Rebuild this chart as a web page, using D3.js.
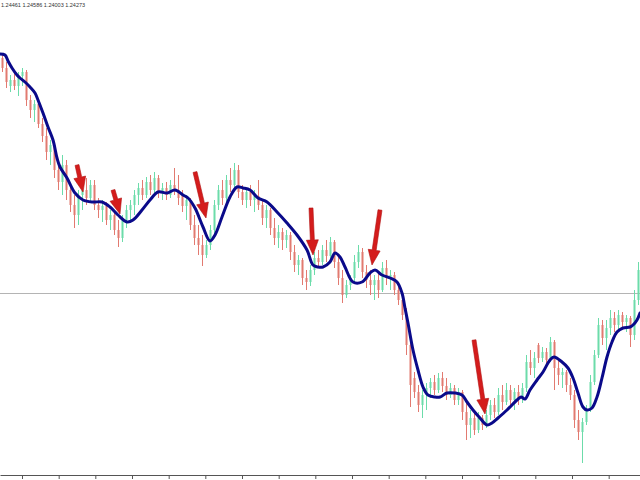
<!DOCTYPE html>
<html><head><meta charset="utf-8">
<script src="https://cdn.jsdelivr.net/npm/d3@7"></script>
<style>html,body{margin:0;padding:0;background:#fff;overflow:hidden}</style>
</head><body><svg id="c" width="640" height="480"></svg>
<script>
// OHLC candles [open, high, low, close]
const candles = [
[1.2662,1.2667,1.2648,1.2652],[1.2652,1.2658,1.2632,1.2638],[1.2634,1.2645,1.2628,1.2640],[1.2640,1.2650,1.2630,1.2634],
[1.2634,1.2648,1.2624,1.2644],[1.2644,1.2652,1.2634,1.2648],[1.2648,1.2650,1.2614,1.2620],[1.2620,1.2625,1.2602,1.2610],
[1.2610,1.2620,1.2598,1.2616],[1.2616,1.2620,1.2592,1.2596],[1.2596,1.2602,1.2578,1.2584],[1.2584,1.2592,1.2560,1.2568],
[1.2568,1.2580,1.2555,1.2575],[1.2575,1.2578,1.2542,1.2550],[1.2550,1.2560,1.2530,1.2538],[1.2538,1.2565,1.2525,1.2555],
[1.2555,1.2560,1.2520,1.2530],[1.2530,1.2537,1.2508,1.2515],[1.2515,1.2525,1.2492,1.2505],[1.2505,1.2530,1.2495,1.2525],
[1.2525,1.2537,1.2510,1.2530],[1.2530,1.2542,1.2515,1.2522],[1.2522,1.2540,1.2517,1.2535],[1.2535,1.2540,1.2510,1.2515],
[1.2515,1.2522,1.2502,1.2510],[1.2510,1.2520,1.2498,1.2514],[1.2514,1.2518,1.2495,1.2500],[1.2500,1.2510,1.2490,1.2505],
[1.2505,1.2508,1.2485,1.2490],[1.2490,1.2500,1.2473,1.2482],[1.2482,1.2505,1.2478,1.2500],[1.2500,1.2515,1.2492,1.2510],
[1.2510,1.2520,1.2500,1.2515],[1.2515,1.2530,1.2505,1.2525],[1.2525,1.2537,1.2515,1.2532],[1.2532,1.2540,1.2520,1.2525],
[1.2525,1.2543,1.2522,1.2538],[1.2538,1.2545,1.2525,1.2530],[1.2530,1.2548,1.2526,1.2542],[1.2542,1.2545,1.2522,1.2528],
[1.2528,1.2537,1.2520,1.2532],[1.2532,1.2538,1.2520,1.2525],[1.2525,1.2540,1.2522,1.2535],[1.2535,1.2552,1.2525,1.2530],
[1.2530,1.2545,1.2515,1.2522],[1.2525,1.2530,1.2508,1.2514],[1.2514,1.2525,1.2500,1.2520],[1.2520,1.2522,1.2490,1.2495],
[1.2495,1.2505,1.2475,1.2482],[1.2482,1.2495,1.2465,1.2475],[1.2475,1.2485,1.2454,1.2465],[1.2465,1.2480,1.2462,1.2475],
[1.2475,1.2495,1.2470,1.2490],[1.2490,1.2520,1.2485,1.2515],[1.2515,1.2535,1.2510,1.2530],[1.2530,1.2540,1.2515,1.2522],
[1.2522,1.2545,1.2518,1.2540],[1.2540,1.2552,1.2528,1.2535],[1.2535,1.2557,1.2530,1.2550],[1.2550,1.2555,1.2522,1.2528],
[1.2528,1.2535,1.2515,1.2520],[1.2520,1.2532,1.2512,1.2528],[1.2528,1.2535,1.2514,1.2520],[1.2520,1.2530,1.2508,1.2524],
[1.2524,1.2540,1.2510,1.2515],[1.2515,1.2520,1.2495,1.2502],[1.2502,1.2515,1.2492,1.2510],[1.2510,1.2512,1.2485,1.2492],
[1.2492,1.2502,1.2475,1.2482],[1.2482,1.2495,1.2472,1.2488],[1.2488,1.2492,1.2470,1.2480],[1.2480,1.2490,1.2472,1.2485],
[1.2485,1.2488,1.2460,1.2468],[1.2468,1.2475,1.2448,1.2455],[1.2455,1.2465,1.2445,1.2460],[1.2460,1.2462,1.2435,1.2442],
[1.2442,1.2450,1.2430,1.2438],[1.2438,1.2455,1.2434,1.2450],[1.2450,1.2468,1.2445,1.2462],[1.2462,1.2470,1.2452,1.2458],
[1.2458,1.2475,1.2455,1.2470],[1.2470,1.2480,1.2458,1.2464],[1.2464,1.2483,1.2460,1.2478],[1.2478,1.2480,1.2452,1.2458],
[1.2458,1.2465,1.2435,1.2442],[1.2442,1.2450,1.2417,1.2425],[1.2425,1.2440,1.2422,1.2435],[1.2435,1.2445,1.2430,1.2442],
[1.2442,1.2465,1.2438,1.2458],[1.2458,1.2475,1.2452,1.2468],[1.2468,1.2472,1.2442,1.2448],[1.2448,1.2455,1.2432,1.2440],
[1.2440,1.2450,1.2425,1.2435],[1.2435,1.2445,1.2420,1.2440],[1.2440,1.2448,1.2422,1.2430],[1.2430,1.2458,1.2428,1.2452],
[1.2452,1.2460,1.2435,1.2442],[1.2442,1.2450,1.2430,1.2445],[1.2445,1.2448,1.2425,1.2430],[1.2430,1.2438,1.2415,1.2420],
[1.2420,1.2425,1.2400,1.2405],[1.2405,1.2412,1.2365,1.2375],[1.2375,1.2385,1.2313,1.2335],[1.2342,1.2348,1.2322,1.2328],
[1.2328,1.2335,1.2308,1.2315],[1.2315,1.2330,1.2302,1.2325],[1.2325,1.2337,1.2310,1.2332],[1.2332,1.2342,1.2322,1.2338],
[1.2338,1.2345,1.2325,1.2330],[1.2330,1.2347,1.2327,1.2342],[1.2342,1.2348,1.2328,1.2334],[1.2334,1.2342,1.2320,1.2325],
[1.2325,1.2337,1.2322,1.2332],[1.2332,1.2335,1.2315,1.2320],[1.2320,1.2332,1.2315,1.2328],[1.2328,1.2330,1.2300,1.2308],
[1.2308,1.2320,1.2280,1.2295],[1.2295,1.2310,1.2282,1.2302],[1.2302,1.2308,1.2285,1.2290],[1.2290,1.2308,1.2287,1.2302],
[1.2302,1.2305,1.2290,1.2295],[1.2295,1.2310,1.2292,1.2305],[1.2305,1.2320,1.2300,1.2315],[1.2315,1.2322,1.2302,1.2308],
[1.2308,1.2332,1.2305,1.2325],[1.2325,1.2335,1.2310,1.2318],[1.2318,1.2337,1.2315,1.2330],[1.2330,1.2335,1.2312,1.2320],
[1.2320,1.2332,1.2310,1.2328],[1.2328,1.2335,1.2315,1.2322],[1.2322,1.2337,1.2317,1.2332],[1.2332,1.2365,1.2328,1.2358],
[1.2358,1.2370,1.2345,1.2352],[1.2352,1.2368,1.2342,1.2362],[1.2375,1.2377,1.2357,1.2362],[1.2362,1.2373,1.2358,1.2368],
[1.2368,1.2372,1.2355,1.2360],[1.2360,1.2383,1.2358,1.2378],[1.2378,1.2380,1.2330,1.2352],[1.2352,1.2360,1.2335,1.2345],
[1.2345,1.2352,1.2332,1.2348],[1.2348,1.2350,1.2328,1.2335],[1.2335,1.2342,1.2320,1.2325],[1.2325,1.2330,1.2292,1.2300],
[1.2300,1.2310,1.2280,1.2288],[1.2288,1.2302,1.2257,1.2298],[1.2298,1.2315,1.2295,1.2310],[1.2310,1.2345,1.2308,1.2338],
[1.2338,1.2370,1.2335,1.2365],[1.2365,1.2402,1.2362,1.2395],[1.2395,1.2400,1.2375,1.2382],[1.2382,1.2400,1.2370,1.2392],
[1.2392,1.2410,1.2385,1.2402],[1.2402,1.2408,1.2388,1.2395],[1.2395,1.2410,1.2390,1.2405],[1.2405,1.2408,1.2392,1.2398],
[1.2398,1.2405,1.2388,1.2402],[1.2402,1.2404,1.2373,1.2385],[1.2385,1.2430,1.2380,1.2420],[1.2420,1.2458,1.2415,1.2450]
];

// Smoothed moving average: [bar index, price]
const maLine = [
[-0.5,1.2666],[0.75,1.2665],[1.5,1.2659],[2.5,1.2652],[3.75,1.2645],[4.5,1.2642],[5.75,1.2638],[7,1.2633],
[8.25,1.2627],[9,1.2620],[10.25,1.2607],[11.5,1.2593],[12.75,1.2580],[13.75,1.2562],[14.5,1.2553],[16.25,1.2542],
[18.25,1.2527],[20.25,1.2520],[22.75,1.2518],[25,1.2518],[27,1.2513],[29,1.2505],[31.25,1.2498],[32.75,1.2500],
[35,1.2510],[37,1.2520],[39,1.2528],[41.25,1.2527],[43.25,1.2530],[45.25,1.2525],[46.5,1.2522],[48.25,1.2512],
[50.25,1.2493],[52,1.2479],[53.25,1.2485],[55,1.2503],[57,1.2523],[58.75,1.2533],[60.25,1.2532],[62,1.2530],
[64,1.2522],[66.25,1.2518],[68.75,1.2508],[71.25,1.2497],[73.75,1.2485],[76.25,1.2470],[77.75,1.2455],[79,1.2453],
[80.25,1.2453],[82,1.2458],[83.25,1.2467],[84.5,1.2463],[85.75,1.2453],[87.75,1.2438],[90,1.2438],[92,1.2447],
[93.25,1.2450],[95,1.2445],[97,1.2442],[98.75,1.2438],[100,1.2427],[100.75,1.2412],[101.5,1.2397],[102.75,1.2370],
[104,1.2350],[105.25,1.2333],[106.5,1.2325],[108.25,1.2323],[109.5,1.2323],[111.25,1.2327],[113.25,1.2327],[115,1.2325],
[116.25,1.2318],[117.75,1.2310],[119.5,1.2302],[121.25,1.2295],[122.5,1.2297],[124,1.2302],[126.25,1.2310],[128.75,1.2320],
[129.75,1.2323],[130.75,1.2321],[132,1.2330],[133.75,1.2340],[135.25,1.2348],[137,1.2360],[138,1.2363],[140,1.2358],
[141.5,1.2352],[142.75,1.2342],[144,1.2327],[145.25,1.2313],[146.25,1.2310],[147.5,1.2312],[148.75,1.2323],[150,1.2342],
[151.25,1.2363],[152.5,1.2378],[153.75,1.2388],[155.25,1.2392],[157,1.2393],[157.75,1.2395],[158.75,1.2400],[159.5,1.2407]
];

// Signal arrows: [tail index, tail price, tip index, tip price]
const arrows = [
[18.75,1.2555,20.25,1.2528],
[27.75,1.2530,29.5,1.2506],
[48.25,1.2548,51,1.2502],
[77.25,1.2512,77.75,1.2465],
[94.5,1.2510,92.5,1.2455],
[118,1.2380,120.75,1.2306]
];

const bidPrice = 1.2427;
const timeTicks = [5,14.17,23.33,32.5,41.67,50.83,60,69.17,78.33,87.5,96.67,105.83,115,124.17,133.33,142.5,151.67];
const headerText = "1.24461 1.24586 1.24003 1.24273";

const upColor = "#6cdcaa", downColor = "#e27a70";

const svg = d3.select("#c");
svg.append("rect").attr("width",640).attr("height",480).attr("fill","#fff");

const x = d3.scaleLinear().domain([-0.5, candles.length - 0.5]).range([0, 640]);
const y = d3.scaleLinear().domain([1.2240, 1.2720]).range([480, 0]);

// bid line
svg.append("line")
  .attr("x1",0).attr("x2",640)
  .attr("y1",Math.round(y(bidPrice))+0.5).attr("y2",Math.round(y(bidPrice))+0.5)
  .attr("stroke","#b4b4b4").attr("stroke-width",1);

// candles
const g = svg.append("g");
candles.forEach((d,i)=>{
  const [o,h,l,c] = d;
  const col = c >= o ? upColor : downColor;
  const px = Math.round(x(i));
  g.append("line").attr("x1",px+0.5).attr("x2",px+0.5)
    .attr("y1",y(h)).attr("y2",y(l)).attr("stroke",col).attr("stroke-width",1);
  const top = y(Math.max(o,c)), bot = y(Math.min(o,c));
  g.append("rect").attr("x",px-0.5).attr("width",2)
    .attr("y",top).attr("height",Math.max(1,bot-top)).attr("fill",col);
});

// moving average
const line = d3.line().x(d=>x(d[0])).y(d=>y(d[1])).curve(d3.curveCatmullRom.alpha(0.5));
svg.append("path").datum(maLine).attr("d",line)
  .attr("fill","none").attr("stroke","#0a0a8a").attr("stroke-width",3)
  .attr("stroke-linejoin","round").attr("stroke-linecap","round");

// arrows
arrows.forEach(a=>{
  const x1=x(a[0]), y1=y(a[1]), x2=x(a[2]), y2=y(a[3]);
  const dx=x2-x1, dy=y2-y1, len=Math.hypot(dx,dy);
  const ux=dx/len, uy=dy/len, nx=-uy, ny=ux;
  const hl=Math.min(15,len*0.65), hw=6, sw=2;
  const bx=x2-ux*hl, by=y2-uy*hl;
  const pts=[[x1+nx*sw,y1+ny*sw],[bx+nx*sw,by+ny*sw],[bx+nx*hw,by+ny*hw],[x2,y2],
             [bx-nx*hw,by-ny*hw],[bx-nx*sw,by-ny*sw],[x1-nx*sw,y1-ny*sw]];
  svg.append("path").attr("d","M"+pts.map(p=>p.join(",")).join("L")+"Z")
    .attr("fill","#d41c1c").attr("stroke","#b01010").attr("stroke-width",0.6);
});

// time axis
const axis = d3.axisBottom(x).tickValues(timeTicks).tickSize(4).tickSizeOuter(0).tickFormat("");
const ax = svg.append("g").attr("transform","translate(0,475)").call(axis);
ax.select(".domain").attr("stroke","#555");
ax.selectAll(".tick line").attr("stroke","#555");

// header
svg.append("text").attr("x",1).attr("y",7)
  .attr("font-family","Liberation Sans, Arial, sans-serif").attr("font-size",5.5)
  .attr("fill","#333").text(headerText);
</script></body></html>
